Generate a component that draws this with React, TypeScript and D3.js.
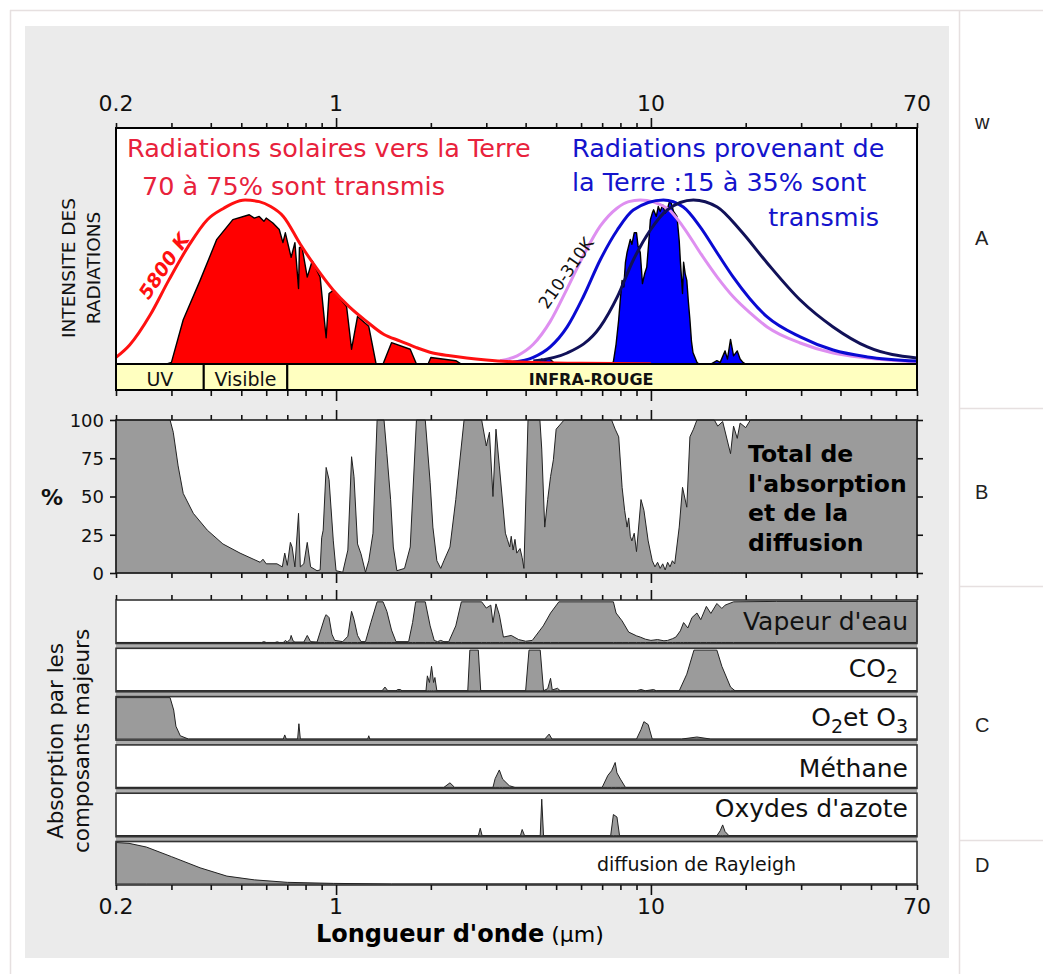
import React, { useEffect, useRef } from 'react';
import * as d3 from 'd3';

type Pt = [number, number];

// Wavelength axis (µm)
const minorTicks = [0.2, 0.3, 0.4, 0.5, 0.6, 0.7, 0.8, 0.9, 2, 3, 4, 5, 6, 7, 8, 9, 20, 30, 40, 50, 60, 70];
const majorTicks = [1, 10];
const tickLabels = [0.2, 1, 10, 70];

// Spectral bands of panel A
const bandNames = ['UV', 'Visible', 'INFRA-ROUGE'];
const bandStarts = [0.2, 0.38, 0.7];
const bandEnds = [0.38, 0.7, 70];

// Panel A: radiation intensity (arbitrary units, peak = 100)
const sun5800K: Pt[] = [
  [0.2, 4], [0.221, 11.6], [0.257, 30], [0.294, 51], [0.34, 72], [0.39, 88], [0.44, 95], [0.47, 98],
  [0.514, 100], [0.57, 99], [0.62, 96], [0.68, 90], [0.77, 73], [0.87, 58], [0.98, 45], [1.1, 35],
  [1.25, 26], [1.42, 18], [1.6, 14], [1.8, 10], [2.03, 6.7], [2.3, 5], [2.6, 3.7], [3.0, 2.5],
  [3.5, 1.5], [4.5, 0.8], [6, 0.4], [10, 0.1],
];

const sunTransmitted: Pt[] = [
  [0.29, 0], [0.3, 1], [0.327, 27], [0.37, 51], [0.418, 76], [0.47, 88], [0.53, 91], [0.55, 89],
  [0.57, 90], [0.59, 87], [0.6, 89], [0.63, 86], [0.66, 82], [0.678, 74], [0.69, 80], [0.72, 65],
  [0.74, 74], [0.76, 46], [0.765, 71], [0.78, 71], [0.81, 53], [0.84, 63], [0.89, 53], [0.93, 16],
  [0.95, 43], [0.98, 45], [1.08, 35], [1.12, 9], [1.17, 29], [1.27, 23], [1.34, 0], [1.41, 0],
  [1.5, 13], [1.72, 9], [1.8, 0], [1.96, 0], [2.0, 4], [2.4, 2], [2.5, 0],
];

const earth310K: Pt[] = [
  [3.32, 2], [3.76, 5], [4.23, 12], [4.79, 26], [5.42, 46], [6.1, 66], [6.9, 84], [7.8, 95],
  [8.5, 99], [9.25, 100], [11.26, 95], [12.67, 83.5], [14.35, 67.7], [16.24, 53], [18.26, 41],
  [20.7, 31], [23.4, 22.6], [29.8, 12.8], [37.9, 6.7], [48.7, 3.7], [70, 1.2],
];

const earth260K: Pt[] = [
  [3.65, 1], [4.23, 4], [4.79, 10.4], [5.42, 22.6], [6.1, 41], [6.9, 63.4], [7.82, 81.7], [8.79, 93.9],
  [10.95, 100], [12.67, 95.7], [14.35, 83.5], [16.24, 67.7], [18.26, 53], [23.4, 28.7], [29.8, 16.5],
  [37.9, 8.5], [48.7, 4.3], [70, 1.8],
];

const earth210K: Pt[] = [
  [4.23, 1.8], [5.42, 6.7], [6.9, 22.6], [7.82, 40.9], [8.79, 63.4], [9.96, 81.7], [11.26, 93.9],
  [13.64, 100], [16.24, 95.7], [19.2, 81.7], [23.4, 61.6], [29.8, 39], [37.9, 22.6], [48.7, 10.4],
  [70, 3.7],
];

const earthTransmitted: Pt[] = [
  [4.4, 0], [4.5, 3], [4.6, 2], [4.75, 3.5], [4.9, 1], [5.0, 0],
  [7.5, 0], [7.6, 1.5], [7.75, 12], [7.9, 27], [8.0, 40], [8.1, 51], [8.2, 47], [8.3, 62], [8.4, 68],
  [8.5, 72], [8.6, 76], [8.7, 73], [8.85, 80], [9.0, 80], [9.1, 72], [9.25, 68], [9.4, 49], [9.55, 55],
  [9.7, 59], [9.85, 75], [9.96, 88], [10.1, 92], [10.2, 94], [10.4, 90], [10.55, 96], [10.7, 93],
  [10.9, 97], [11.1, 92], [11.26, 94], [11.45, 99], [11.6, 98], [11.8, 93], [12.1, 90], [12.3, 75],
  [12.4, 63], [12.6, 43], [12.7, 62], [12.85, 55], [13.0, 51], [13.15, 38], [13.3, 27], [13.45, 14],
  [13.6, 7], [14.0, 1], [14.2, 0],
  [15.5, 0], [16.2, 2], [16.6, 1], [17.2, 8], [17.5, 3], [17.9, 15], [18.3, 5], [18.8, 8], [19.2, 3],
  [19.6, 1], [20, 0],
];

// Panel B: total absorption and scattering (%)
const percentTicks = [0, 25, 50, 75, 100];
const totalAbsorption: Pt[] = [
  [0.2, 100], [0.297, 100], [0.304, 92], [0.315, 70], [0.327, 52], [0.352, 39], [0.39, 28], [0.437, 19],
  [0.4955, 13], [0.574, 7], [0.586, 9], [0.6, 6], [0.649, 6], [0.675, 4], [0.687, 13], [0.7, 5],
  [0.716, 20], [0.725, 17], [0.74, 4], [0.76, 39], [0.77, 4], [0.79, 6], [0.81, 20], [0.83, 4],
  [0.87, 1.5], [0.89, 2], [0.9, 23], [0.91, 28], [0.93, 69], [0.95, 61], [0.98, 21], [1.0, 1.5],
  [1.05, 0.5], [1.09, 15], [1.12, 76], [1.14, 63], [1.17, 19], [1.2, 12.5], [1.24, 0.5], [1.27, 8],
  [1.31, 26], [1.35, 100], [1.42, 100], [1.45, 78], [1.49, 48], [1.52, 17], [1.56, 1.5], [1.65, 3],
  [1.72, 17], [1.8, 100], [1.92, 100], [1.99, 59], [2.03, 30], [2.09, 8], [2.15, 3], [2.2, 8],
  [2.3, 17], [2.4, 48], [2.55, 100], [2.9, 100], [3.0, 83], [3.07, 92], [3.15, 50], [3.22, 94],
  [3.3, 70], [3.45, 26], [3.5, 22], [3.56, 17], [3.6, 24], [3.65, 15], [3.7, 22], [3.75, 13],
  [3.84, 16], [3.9, 10], [3.95, 3], [4.07, 100], [4.44, 100], [4.5, 81], [4.6, 30], [4.7, 48],
  [4.8, 63], [4.9, 74], [5.0, 94], [5.3, 100], [7.5, 100], [7.7, 94], [7.9, 89], [8.1, 56],
  [8.25, 41], [8.4, 30], [8.5, 36], [8.6, 24], [8.7, 21], [8.85, 26], [9.0, 14], [9.3, 48], [9.5, 41],
  [9.8, 21], [10.1, 8], [10.3, 4], [10.5, 7], [10.7, 3], [10.9, 6], [11.1, 2], [11.3, 7], [11.5, 4],
  [11.7, 8], [11.9, 6], [12.3, 30], [12.6, 56], [13.0, 43], [13.3, 89], [13.65, 94], [14.0, 100],
  [15.9, 100], [16.3, 96], [16.9, 99], [17.9, 78], [18.3, 96], [18.8, 88], [19.2, 98], [20, 95],
  [20.7, 100], [70, 100],
];

// Panel C: absorption by the main components (%)
const waterVapour: Pt[] = [
  [0.2, 0], [0.58, 0], [0.59, 2], [0.6, 0], [0.64, 0], [0.65, 1.5], [0.66, 0], [0.68, 0], [0.69, 5],
  [0.7, 1], [0.715, 8], [0.72, 17], [0.73, 4], [0.74, 1], [0.79, 1], [0.81, 17], [0.83, 2], [0.87, 1],
  [0.89, 25], [0.92, 60], [0.93, 67], [0.95, 60], [0.97, 20], [0.99, 5], [1.05, 2], [1.09, 15],
  [1.12, 75], [1.14, 56], [1.17, 17], [1.2, 2], [1.24, 2], [1.29, 48], [1.35, 98], [1.41, 98],
  [1.45, 75], [1.5, 30], [1.55, 2], [1.7, 2], [1.75, 48], [1.79, 98], [1.92, 98], [1.99, 40],
  [2.05, 5], [2.1, 2], [2.15, 5], [2.2, 2], [2.28, 2], [2.4, 40], [2.5, 98], [2.9, 98], [3.0, 83],
  [3.1, 90], [3.15, 48], [3.22, 93], [3.3, 67], [3.4, 13], [3.6, 17], [3.8, 7], [4.0, 3], [4.2, 5],
  [4.55, 40], [4.8, 71], [5.1, 98], [7.6, 98], [7.75, 71], [8.1, 52], [8.5, 25], [9.0, 16],
  [9.25, 13], [9.6, 8], [10, 5], [10.5, 7], [11, 4], [11.3, 5], [11.7, 9], [12, 13], [12.4, 28],
  [12.7, 48], [13.1, 35], [13.5, 60], [14, 71], [14.4, 55], [15, 87], [15.5, 70], [16.2, 94],
  [16.8, 82], [17.2, 90], [18.3, 98], [25, 99], [70, 99],
];

const carbonDioxide: Pt[] = [
  [0.2, 0], [1.4, 0], [1.43, 9], [1.46, 0], [1.55, 0], [1.57, 3], [1.6, 3], [1.62, 0], [1.93, 0],
  [1.95, 36], [1.98, 20], [2.01, 59], [2.04, 20], [2.06, 32], [2.09, 0], [2.62, 0], [2.66, 98],
  [2.83, 98], [2.88, 0], [4.0, 0], [4.1, 98], [4.45, 98], [4.56, 0], [4.7, 5], [4.8, 30], [4.86, 2],
  [5.05, 6], [5.15, 0], [9.0, 0], [9.3, 3], [9.6, 0], [10.2, 3], [10.4, 0], [12.3, 0], [13.0, 40],
  [13.7, 98], [16.2, 98], [16.8, 59], [17.9, 9], [18.5, 0], [70, 0],
];

const oxygenOzone: Pt[] = [
  [0.2, 100], [0.297, 100], [0.305, 70], [0.31, 31], [0.32, 8], [0.34, 0], [0.68, 0], [0.687, 10],
  [0.695, 0], [0.755, 0], [0.762, 37], [0.77, 0], [1.26, 0], [1.27, 8], [1.28, 0], [4.6, 0],
  [4.75, 12], [4.85, 0], [9.0, 0], [9.3, 23], [9.5, 42], [9.8, 35], [10.1, 0], [12.5, 0], [14, 5],
  [15.5, 0], [70, 0],
];

const methane: Pt[] = [
  [0.2, 0], [2.2, 0], [2.3, 11], [2.38, 0], [3.15, 0], [3.2, 21], [3.3, 42], [3.38, 20], [3.55, 4],
  [3.7, 0], [7.0, 0], [7.3, 29], [7.5, 40], [7.7, 60], [7.8, 35], [8.0, 20], [8.3, 0], [70, 0],
];

const nitrousOxide: Pt[] = [
  [0.2, 0], [2.83, 0], [2.87, 18], [2.91, 0], [3.85, 0], [3.9, 15], [3.97, 0], [4.45, 0], [4.5, 88],
  [4.56, 0], [7.45, 0], [7.6, 51], [7.8, 45], [7.95, 0], [16.2, 0], [16.6, 12], [16.9, 26],
  [17.2, 10], [17.7, 0], [70, 0],
];

const rayleigh: Pt[] = [
  [0.2, 100], [0.22, 98], [0.25, 89], [0.3, 66], [0.37, 39], [0.45, 19], [0.55, 10], [0.7, 4],
  [0.98, 1.5], [1.5, 0], [70, 0],
];

const gasKeys = ['h2o', 'co2', 'o3', 'ch4', 'n2o', 'rayleigh'];
const gasSeries = [waterVapour, carbonDioxide, oxygenOzone, methane, nitrousOxide, rayleigh];

const W = 1043;
const H = 974;
const FONT = "'DejaVu Sans', sans-serif";

const x = d3.scaleLog().domain([0.2, 70]).range([116, 917]);

// Draw utils
function drawTicks(g: any, y: number, dir: number) {
  const minor = dir < 0 ? d3.axisTop(x) : d3.axisBottom(x);
  minor.tickValues(minorTicks).tickSize(5).tickSizeOuter(0).tickFormat(() => '');
  const major = dir < 0 ? d3.axisTop(x) : d3.axisBottom(x);
  major.tickValues(majorTicks).tickSize(10).tickSizeOuter(0).tickFormat(() => '');

  [minor, major].forEach(axis => {
    const a = g.append('g').attr('transform', `translate(0,${y})`).call(axis);
    a.select('.domain').remove();
    a.selectAll('line').attr('stroke', '#111').attr('stroke-width', 1.6);
  });
}

function drawTickLabels(g: any, y: number) {
  g.selectAll(null)
    .data(tickLabels)
    .enter()
    .append('text')
    .attr('x', (d: number) => x(d))
    .attr('y', y)
    .attr('text-anchor', 'middle')
    .style('font-family', FONT)
    .style('font-size', '22px')
    .style('fill', '#111')
    .text((d: number) => String(d));
}

function drawPage(svg: any) {
  const lineColor = '#e6e0e0';
  svg.append('rect').attr('width', W).attr('height', H).attr('fill', '#fff');

  const t = svg.append('g').attr('stroke', lineColor).attr('stroke-width', 1.5);
  t.append('line').attr('x1', 10).attr('x2', W).attr('y1', 10.5).attr('y2', 10.5);
  t.append('line').attr('x1', 10.5).attr('x2', 10.5).attr('y1', 10).attr('y2', H);
  t.append('line').attr('x1', 959.5).attr('x2', 959.5).attr('y1', 10).attr('y2', H);
  [408.5, 586.5, 840.5].forEach(y => {
    t.append('line').attr('x1', 959.5).attr('x2', W).attr('y1', y).attr('y2', y);
  });

  const letters = ['w', 'A', 'B', 'C', 'D'];
  const letterY = [129, 245, 499, 732, 872];
  letters.forEach((l, i) => {
    svg
      .append('text')
      .attr('x', 975)
      .attr('y', letterY[i])
      .style('font-family', "'Liberation Sans', Arial, sans-serif")
      .style('font-size', '20px')
      .style('fill', '#222')
      .text(l);
  });

  svg.append('rect').attr('x', 25).attr('y', 26).attr('width', 924).attr('height', 932).attr('fill', '#ebebeb');
}

function drawPanelA(svg: any) {
  const top = 128;
  const base = 364;
  const bottom = 390;
  const yA = d3.scaleLinear().domain([0, 100]).range([base, 200]);

  svg.append('defs').append('clipPath').attr('id', 'clipA')
    .append('rect').attr('x', 116).attr('y', top).attr('width', 801).attr('height', base - top);

  svg.append('rect').attr('x', 116).attr('y', top).attr('width', 801).attr('height', base - top).attr('fill', '#fff');

  const g = svg.append('g').attr('clip-path', 'url(#clipA)');
  const area = d3.area<Pt>().x(d => x(d[0])).y0(yA(0)).y1(d => yA(d[1]));
  const smooth = d3.line<Pt>().x(d => x(d[0])).y(d => yA(d[1])).curve(d3.curveMonotoneX);

  g.append('path').datum(sunTransmitted).attr('d', area)
    .attr('fill', '#ff0000').attr('stroke', '#000').attr('stroke-width', 1.4).attr('stroke-linejoin', 'round');
  g.append('path').datum(earthTransmitted).attr('d', area)
    .attr('fill', '#0000ff').attr('stroke', '#000').attr('stroke-width', 1.4).attr('stroke-linejoin', 'round');

  const curves: [Pt[], string][] = [
    [earth310K, '#de8ff0'],
    [earth260K, '#0a0ad2'],
    [earth210K, '#111158'],
    [sun5800K, '#ff1010'],
  ];
  curves.forEach(([data, color]) => {
    g.append('path').datum(data).attr('d', smooth)
      .attr('fill', 'none').attr('stroke', color).attr('stroke-width', 3);
  });

  // bands
  const bands = svg.append('g');
  bandNames.forEach((name, i) => {
    const x0 = x(bandStarts[i]);
    const x1 = x(bandEnds[i]);
    bands.append('rect').attr('x', x0).attr('y', base).attr('width', x1 - x0).attr('height', bottom - base)
      .attr('fill', '#ffffc0').attr('stroke', '#000').attr('stroke-width', 2);
    const isIR = i === 2;
    bands.append('text')
      .attr('x', isIR ? (x0 + x1) / 2 - 11 : (x0 + x1) / 2)
      .attr('y', isIR ? 385 : 386)
      .attr('text-anchor', 'middle')
      .style('font-family', FONT)
      .style('font-size', isIR ? '16px' : '19px')
      .style('font-weight', isIR ? 'bold' : 'normal')
      .style('fill', '#111')
      .text(name);
  });

  svg.append('rect').attr('x', 116).attr('y', top).attr('width', 801).attr('height', bottom - top)
    .attr('fill', 'none').attr('stroke', '#000').attr('stroke-width', 2);

  drawTicks(svg, top, -1);
  drawTicks(svg, bottom + 1, 1);
  drawTickLabels(svg, 111);

  // texts
  const red = '#e8223c';
  const blue = '#1414cc';
  const txt = (s: string, xx: number, yy: number, color: string, anchor = 'start') =>
    svg.append('text').attr('x', xx).attr('y', yy).attr('text-anchor', anchor)
      .style('font-family', FONT).style('font-size', '25.5px').style('fill', color).text(s);
  txt('Radiations solaires vers la Terre', 127, 157, red);
  txt('70 à 75% sont transmis', 142, 195, red);
  txt('Radiations provenant de', 572, 157, blue);
  txt('la Terre :15 à 35% sont', 572, 191, blue);
  txt('transmis', 879, 226, blue, 'end');

  svg.append('text')
    .attr('transform', 'translate(164,266) rotate(-56)')
    .attr('text-anchor', 'middle')
    .attr('dy', '0.35em')
    .style('font-family', FONT).style('font-size', '19px')
    .style('font-weight', 'bold').style('font-style', 'italic')
    .style('fill', '#ff1010')
    .text('5800 K');

  svg.append('text')
    .attr('transform', 'translate(566,273) rotate(-55)')
    .attr('text-anchor', 'middle')
    .attr('dy', '0.35em')
    .style('font-family', FONT).style('font-size', '17px')
    .style('fill', '#111')
    .text('210-310K');

  ['INTENSITE DES', 'RADIATIONS'].forEach((s, i) => {
    svg.append('text')
      .attr('transform', `translate(${75 + i * 25},268) rotate(-90)`)
      .attr('text-anchor', 'middle')
      .style('font-family', FONT).style('font-size', '18.5px').style('fill', '#111')
      .text(s);
  });
}

function drawPanelB(svg: any) {
  const yB = d3.scaleLinear().domain([0, 100]).range([573, 420]);

  svg.append('rect').attr('x', 116).attr('y', 420).attr('width', 801).attr('height', 153).attr('fill', '#fff');

  const area = d3.area<Pt>().x(d => x(d[0])).y0(yB(0)).y1(d => yB(d[1]));
  svg.append('path').datum(totalAbsorption).attr('d', area)
    .attr('fill', '#9b9b9b').attr('stroke', '#222').attr('stroke-width', 1).attr('stroke-linejoin', 'round');

  svg.append('rect').attr('x', 116).attr('y', 420).attr('width', 801).attr('height', 153)
    .attr('fill', 'none').attr('stroke', '#222').attr('stroke-width', 1.6);

  drawTicks(svg, 420, -1);
  drawTicks(svg, 573, 1);

  const left = svg.append('g').attr('transform', 'translate(116,0)')
    .call(d3.axisLeft(yB).tickValues(percentTicks).tickSize(6).tickSizeOuter(0));
  left.select('.domain').remove();
  left.selectAll('line').attr('stroke', '#111').attr('stroke-width', 1.6);
  left.selectAll('text').attr('x', -12).attr('dy', '0.36em')
    .style('font-family', FONT).style('font-size', '18px').style('fill', '#111');

  const right = svg.append('g').attr('transform', 'translate(917,0)')
    .call(d3.axisRight(yB).tickValues(percentTicks).tickSize(6).tickSizeOuter(0).tickFormat(() => ''));
  right.select('.domain').remove();
  right.selectAll('line').attr('stroke', '#111').attr('stroke-width', 1.6);

  svg.append('text').attr('x', 41).attr('y', 505)
    .style('font-family', FONT).style('font-size', '22px').style('font-weight', 'bold').style('fill', '#111')
    .text('%');

  const label = svg.append('text')
    .style('font-family', FONT).style('font-size', '23.5px').style('font-weight', 'bold').style('fill', '#000');
  ['Total de', "l'absorption", 'et de la', 'diffusion'].forEach((s, i) => {
    label.append('tspan').attr('x', 748).attr('y', 462 + i * 29.7).text(s);
  });
}

function drawPanelC(svg: any) {
  const band = d3.scaleBand<string>().domain(gasKeys).range([600, 885]).paddingInner(0.1);
  const h = band.bandwidth();

  svg.append('rect').attr('x', 116).attr('y', 600).attr('width', 801).attr('height', 285).attr('fill', '#ababab');

  gasKeys.forEach((key, i) => {
    const top = band(key) as number;
    const yC = d3.scaleLinear().domain([0, 100]).range([top + h - 1, top + 1]);
    const area = d3.area<Pt>().x(d => x(d[0])).y0(yC(0)).y1(d => yC(d[1]));

    svg.append('rect').attr('x', 116).attr('y', top).attr('width', 801).attr('height', h).attr('fill', '#fff');
    svg.append('path').datum(gasSeries[i]).attr('d', area)
      .attr('fill', '#9b9b9b').attr('stroke', '#222').attr('stroke-width', 1).attr('stroke-linejoin', 'round');
    svg.append('rect').attr('x', 116).attr('y', top).attr('width', 801).attr('height', h)
      .attr('fill', 'none').attr('stroke', '#333').attr('stroke-width', 1.6);
  });

  const lbl = (top: number, dy: number) =>
    svg.append('text').attr('x', 908).attr('y', top + dy).attr('text-anchor', 'end')
      .style('font-family', FONT).style('font-size', '25px').style('fill', '#111');

  lbl(band('h2o') as number, 30).text("Vapeur d'eau");

  const co2 = lbl(band('co2') as number, 29).attr('x', 898);
  co2.append('tspan').text('CO');
  co2.append('tspan').attr('dy', 6).style('font-size', '19px').text('2');

  const o3 = lbl(band('o3') as number, 29);
  o3.append('tspan').text('O');
  o3.append('tspan').attr('dy', 7).style('font-size', '19px').text('2');
  o3.append('tspan').attr('dy', -7).text('et O');
  o3.append('tspan').attr('dy', 7).style('font-size', '19px').text('3');

  lbl(band('ch4') as number, 32).text('Méthane');
  lbl(band('n2o') as number, 24).text("Oxydes d'azote");

  svg.append('text').attr('x', 597).attr('y', (band('rayleigh') as number) + 29)
    .style('font-family', FONT).style('font-size', '19px').style('fill', '#111')
    .text('diffusion de Rayleigh');

  drawTicks(svg, 600, -1);
  drawTicks(svg, 885, 1);
  drawTickLabels(svg, 914);

  ['Absorption par les', 'composants majeurs'].forEach((s, i) => {
    svg.append('text')
      .attr('transform', `translate(${63 + i * 26},741) rotate(-90)`)
      .attr('text-anchor', 'middle')
      .style('font-family', FONT).style('font-size', '21.5px').style('fill', '#111')
      .text(s);
  });

  const xl = svg.append('text').attr('x', 316).attr('y', 942)
    .style('font-family', FONT).style('fill', '#000');
  xl.append('tspan').style('font-size', '24px').style('font-weight', 'bold').text("Longueur d'onde");
  xl.append('tspan').style('font-size', '22px').text(' (μm)');
}

export default function App() {
  const svgRef = useRef<SVGSVGElement>(null);

  useEffect(() => {
    const svg = d3.select(svgRef.current);
    svg.selectAll('*').remove();
    drawPage(svg);
    drawPanelA(svg);
    drawPanelB(svg);
    drawPanelC(svg);
  }, []);

  return (
    <div style={{ position: 'absolute', left: 0, top: 0 }}>
      <svg ref={svgRef} width={W} height={H} style={{ display: 'block' }} />
    </div>
  );
}
